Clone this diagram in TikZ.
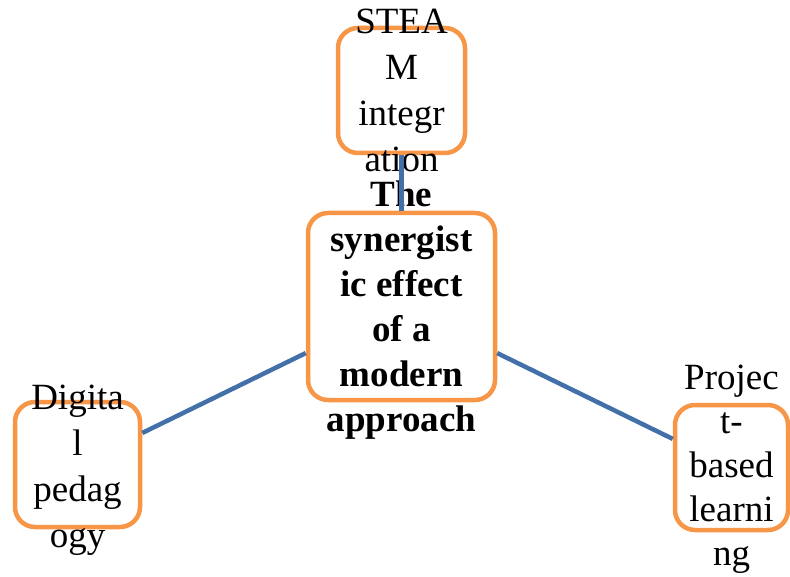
\documentclass[tikz,border=0pt]{standalone}
\usepackage{fontspec}
\setmainfont{Liberation Serif}
\definecolor{boxorange}{HTML}{F79646}
\definecolor{linkblue}{HTML}{4470AA}
\begin{document}
\begin{tikzpicture}[x=1pt,y=-1pt,
  box/.style={draw=boxorange, line width=4.5pt, rounded corners=20pt, rectangle, inner sep=0pt, fill=white},
  lbl/.style={align=center, inner sep=0pt, font=\fontsize{37}{46}\selectfont},
  link/.style={draw=linkblue, line width=4.5pt}]
\useasboundingbox (0,0) rectangle (790,577);
\node[box, minimum width=127pt, minimum height=125pt] (top) at (401.5,90.5) {};
\node[box, minimum width=187pt, minimum height=187pt] (mid) at (401.5,306.5) {};
\node[box, minimum width=125pt, minimum height=125pt] (left) at (77.5,464.5) {};
\node[box, minimum width=113pt, minimum height=125pt] (right) at (731.5,467.5) {};
\node[lbl] (ttop) at (top.center) {STEA\\M\\integr\\ation};
\node[lbl, font=\fontsize{37}{45}\selectfont\bfseries] (tmid) at ([yshift=-4pt]mid.center) {The\\synergist\\ic effect\\of a\\modern\\approach};
\node[lbl] (tleft) at ([yshift=-6pt]left.center) {Digita\\l\\pedag\\ogy};
\node[lbl, font=\fontsize{37}{44}\selectfont] (tright) at ([yshift=-2pt]right.center) {Projec\\t-\\based\\learni\\ng};
\draw[link] (mid) -- (top);
\draw[link] (mid) -- (left);
\draw[link] (mid) -- (right);
\end{tikzpicture}
\end{document}
